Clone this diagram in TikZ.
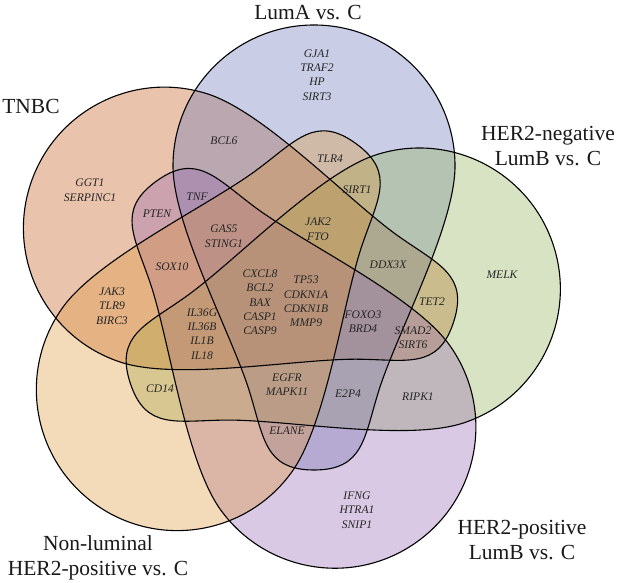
\documentclass[tikz,border=0pt]{standalone}
\usepackage{fontspec}
\setmainfont{Liberation Serif}
\definecolor{cT}{RGB}{192,84,18}
\definecolor{cL}{RGB}{101,115,184}
\definecolor{cG}{RGB}{146,175,86}
\definecolor{cP}{RGB}{149,103,178}
\definecolor{cN}{RGB}{221,149,55}
\def\VennShape{(141,0) arc[start angle=0,end angle=180,radius=141pt] .. controls (-141,-60) and (-83,-167) .. (-65,-224) .. controls (-50,-271.5) and (-50,-304) .. (0,-304) .. controls (50,-304) and (50,-271.5) .. (65,-224) .. controls (83,-167) and (141,-60) .. (141,0) -- cycle}
\tikzset{
  vset/.style={shift={(282,282)}, rotate=#1, shift={(32,134)}},
  gene/.style={font=\fontsize{11.6}{14.4}\selectfont\itshape, align=center, inner sep=0pt, text=black!85},
  settitle/.style={font=\fontsize{21.5}{25}\selectfont, inner sep=0pt, anchor=base, text=black!90}
}
\begin{document}
\begin{tikzpicture}[x=1pt,y=1pt]
\useasboundingbox (0,0) rectangle (617,582);
\fill[white] (0,0) rectangle (617,582);
% fills
\foreach \a/\c in {-288/cT, 0/cL, -72/cG, -144/cP, -216/cN}{
  \fill[vset=\a, \c, fill opacity=0.35] \VennShape;
}
% outlines
\foreach \a in {0,-72,-144,-216,-288}{
  \draw[vset=\a, line width=1.1pt] \VennShape;
}
% titles
\node[settitle] (tLumA) at (308,562) {LumA vs. C};
\node[settitle] (tTNBC) at (31,468) {TNBC};
\node[settitle] (tHneg1) at (548,442) {HER2-negative};
\node[settitle] (tHneg2) at (548,417) {LumB vs. C};
\node[settitle] (tHpos1) at (522,48) {HER2-positive};
\node[settitle] (tHpos2) at (522,23) {LumB vs. C};
\node[settitle] (tNon1) at (98,32) {Non-luminal};
\node[settitle] (tNon2) at (98,7) {HER2-positive vs. C};
% genes
\node[gene] (g1) at (317,507) {GJA1\\TRAF2\\HP\\SIRT3};
\node[gene] (g2) at (90,391.7) {GGT1\\SERPINC1};
\node[gene] (g3) at (224,441) {BCL6};
\node[gene] (g4) at (330,423) {TLR4};
\node[gene] (g5) at (197,385) {TNF};
\node[gene] (g6) at (157,368) {PTEN};
\node[gene] (g7) at (357,392) {SIRT1};
\node[gene] (g8) at (224,345.7) {GAS5\\STING1};
\node[gene] (g9) at (318,352.8) {JAK2\\FTO};
\node[gene] (g10) at (388,317) {DDX3X};
\node[gene] (g11) at (502,307) {MELK};
\node[gene] (g12) at (172,315) {SOX10};
\node[gene] (g13) at (260,279.8) {CXCL8\\BCL2\\BAX\\CASP1\\CASP9};
\node[gene] (g14) at (306,280.4) {TP53\\CDKN1A\\CDKN1B\\MMP9};
\node[gene] (g15) at (432,280) {TET2};
\node[gene] (g16) at (363,260.3) {FOXO3\\BRD4};
\node[gene] (g17) at (413,244.5) {SMAD2\\SIRT6};
\node[gene] (g18) at (112,276) {JAK3\\TLR9\\BIRC3};
\node[gene] (g19) at (202,248) {IL36G\\IL36B\\IL1B\\IL18};
\node[gene] (g20) at (160,193) {CD14};
\node[gene] (g21) at (287,197.5) {EGFR\\MAPK11};
\node[gene] (g22) at (348,188) {E2P4};
\node[gene] (g23) at (418,185) {RIPK1};
\node[gene] (g24) at (287,151) {ELANE};
\node[gene] (g25) at (357,72) {IFNG\\HTRA1\\SNIP1};
\end{tikzpicture}
\end{document}
